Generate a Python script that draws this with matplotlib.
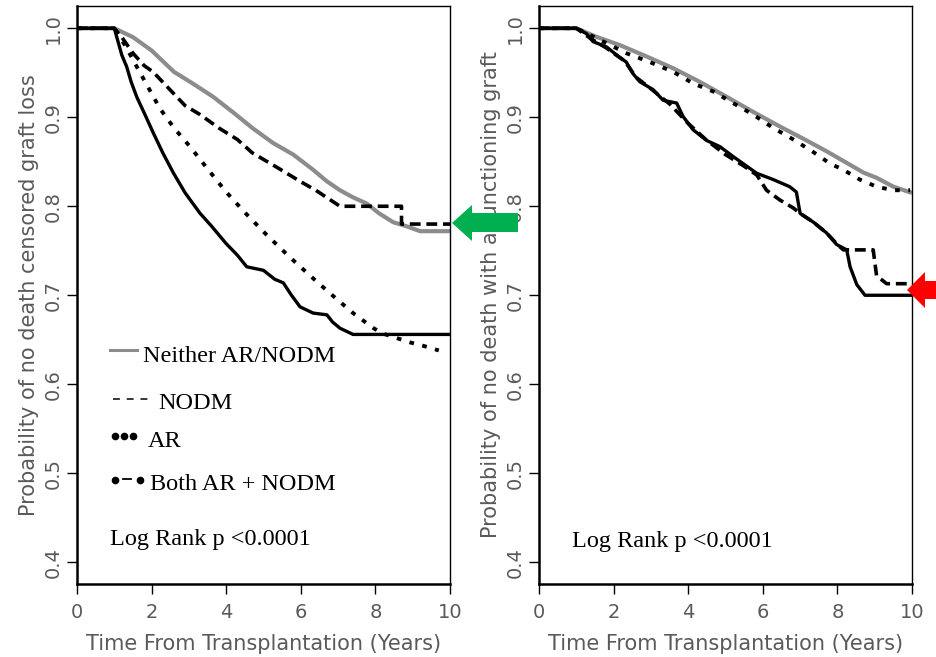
import matplotlib

matplotlib.use("Agg")
import matplotlib.pyplot as plt
from matplotlib.patches import Polygon

# ---- left panel: death censored graft loss ----
L_NEITHER_T = [0, 1.0, 1.5, 2.0, 2.6, 3.1, 3.65, 4.2, 4.7, 5.26, 5.8, 6.33, 6.7, 7.05, 7.4, 7.77, 8.1, 8.48, 8.8, 9.2, 10]
L_NEITHER_S = [1.0, 1.0, 0.990, 0.975, 0.951, 0.938, 0.923, 0.905, 0.888, 0.871, 0.858, 0.841, 0.828, 0.818, 0.810, 0.803, 0.792, 0.782, 0.778, 0.772, 0.772]

L_NODM_T = [0, 1.0, 1.2, 1.5, 1.8, 2.04, 2.4, 2.9, 3.3, 3.8, 4.3, 4.7, 5.35, 5.98, 6.4, 6.87, 7.05, 8.7, 8.7, 10]
L_NODM_S = [1.0, 1.0, 0.990, 0.972, 0.958, 0.951, 0.935, 0.913, 0.903, 0.888, 0.875, 0.860, 0.844, 0.828, 0.818, 0.805, 0.800, 0.800, 0.780, 0.780]

L_AR_T = [0, 1.0, 1.3, 1.6, 2.22, 2.6, 3.03, 3.5, 4.0, 4.5, 5.08, 5.7, 6.33, 6.9, 7.4, 7.95, 8.2, 8.93, 9.3, 9.7]
L_AR_S = [1.0, 1.0, 0.980, 0.957, 0.910, 0.888, 0.867, 0.842, 0.816, 0.793, 0.768, 0.743, 0.719, 0.698, 0.680, 0.663, 0.657, 0.647, 0.643, 0.638]

L_BOTH_T = [0, 1.0, 1.1, 1.2, 1.33, 1.45, 1.6, 1.8, 2.05, 2.3, 2.59, 2.9, 3.3, 3.6, 4.0, 4.3, 4.55, 5.0, 5.3, 5.53, 5.75, 5.98, 6.33, 6.7, 6.85, 7.05, 7.4, 10]
L_BOTH_S = [1.0, 1.0, 0.985, 0.970, 0.957, 0.940, 0.923, 0.905, 0.882, 0.860, 0.837, 0.815, 0.792, 0.778, 0.758, 0.745, 0.732, 0.728, 0.718, 0.714, 0.700, 0.687, 0.680, 0.678, 0.670, 0.663, 0.656, 0.656]

# ---- right panel: death with a functioning graft ----
R_NEITHER_T = [0, 1.0, 1.5, 2.17, 2.9, 3.6, 4.3, 5.03, 5.7, 6.44, 7.17, 7.7, 8.24, 8.69, 9.05, 9.5, 10]
R_NEITHER_S = [1.0, 1.0, 0.991, 0.981, 0.968, 0.955, 0.940, 0.923, 0.907, 0.890, 0.874, 0.862, 0.849, 0.838, 0.832, 0.822, 0.815]

R_NODM_T = [0, 1.0, 1.4, 1.8, 2.3, 2.6, 3.0, 3.5, 4.0, 4.5, 5.0, 5.5, 5.84, 6.1, 6.46, 6.82, 7.0, 7.36, 7.71, 8.0, 8.16, 8.96, 9.05, 9.32, 10]
R_NODM_S = [1.0, 1.0, 0.988, 0.978, 0.963, 0.945, 0.932, 0.915, 0.893, 0.874, 0.858, 0.845, 0.835, 0.818, 0.807, 0.798, 0.792, 0.782, 0.770, 0.757, 0.751, 0.751, 0.722, 0.713, 0.713]

R_AR_T = [0, 1.0, 1.63, 2.34, 2.97, 3.6, 4.13, 4.67, 5.2, 5.74, 6.28, 6.82, 7.35, 7.8, 8.16, 8.6, 9.05, 9.5, 9.95]
R_AR_S = [1.0, 1.0, 0.987, 0.972, 0.962, 0.951, 0.938, 0.929, 0.916, 0.903, 0.888, 0.875, 0.861, 0.848, 0.841, 0.830, 0.822, 0.818, 0.818]

R_BOTH_T = [0, 1.0, 1.27, 1.45, 1.81, 2.08, 2.34, 2.52, 2.7, 3.06, 3.33, 3.69, 3.86, 4.13, 4.49, 4.85, 5.2, 5.57, 5.84, 6.28, 6.72, 6.9, 7.0, 7.36, 7.71, 7.98, 8.25, 8.34, 8.52, 8.74, 10]
R_BOTH_S = [1.0, 1.0, 0.994, 0.985, 0.979, 0.970, 0.962, 0.949, 0.940, 0.931, 0.919, 0.916, 0.901, 0.886, 0.874, 0.867, 0.856, 0.845, 0.837, 0.830, 0.822, 0.816, 0.792, 0.782, 0.770, 0.757, 0.751, 0.732, 0.712, 0.700, 0.700]

X_TICKS = [0, 2, 4, 6, 8, 10]
Y_TICKS = [0.4, 0.5, 0.6, 0.7, 0.8, 0.9, 1.0]
X_LABEL = "Time From Transplantation (Years)"
Y_LABELS = ["Probability of no death censored graft loss",
            "Probability of no death with a functioning graft"]
LEGEND_TEXT = ["Neither AR/NODM", "NODM", "AR", "Both AR + NODM"]
P_TEXT = "Log Rank p <0.0001"

W, H = 936, 657
SANS = ["DejaVu Sans"]
SERIF = ["Liberation Serif", "DejaVu Serif"]
TXT = "#5a5a5a"
GRAY = "#8c8c8c"

fig = plt.figure(figsize=(W / 100, H / 100), dpi=100)
ax_l = fig.add_axes([77 / W, 1 - 584 / H, 373 / W, 578 / H])
ax_r = fig.add_axes([539 / W, 1 - 584 / H, 373 / W, 578 / H])


def style_axes(ax, ylabel):
    ax.set_xlim(0, 10)
    ax.set_ylim(0.3756, 1.025)
    ax.set_xticks(X_TICKS)
    ax.set_yticks(Y_TICKS)
    ax.set_xticklabels([str(t) for t in X_TICKS], family=SANS, color=TXT, fontsize=14)
    ax.set_yticklabels([f"{t:.1f}" for t in Y_TICKS], family=SANS, color=TXT,
                       fontsize=14, rotation=90, va="center")
    ax.tick_params(axis="both", direction="out", length=7, width=1.0, color="black")
    ax.tick_params(axis="x", pad=7)
    ax.tick_params(axis="y", pad=3)
    for side in ("top", "right"):
        ax.spines[side].set_linewidth(1.0)
    for side in ("left", "bottom"):
        ax.spines[side].set_linewidth(1.8)
    ax.set_xlabel(X_LABEL, family=SANS, color=TXT, fontsize=15, labelpad=8)
    ax.set_ylabel(ylabel, family=SANS, color=TXT, fontsize=15, labelpad=4)


def draw_curves(ax, neither, nodm, ar, both):
    ax.plot(*neither, color=GRAY, lw=3.0, solid_capstyle="butt", zorder=2)
    ax.plot(*nodm, color="black", lw=2.6, dashes=(3, 1.6), zorder=3)
    ax.plot(*ar, color="black", lw=2.8, dashes=(1.2, 2.2), zorder=3)
    ax.plot(*both, color="black", lw=2.4, zorder=4)


draw_curves(ax_l, (L_NEITHER_T, L_NEITHER_S), (L_NODM_T, L_NODM_S), (L_AR_T, L_AR_S), (L_BOTH_T, L_BOTH_S))
draw_curves(ax_r, (R_NEITHER_T, R_NEITHER_S), (R_NODM_T, R_NODM_S), (R_AR_T, R_AR_S), (R_BOTH_T, R_BOTH_S))
style_axes(ax_l, Y_LABELS[0])
style_axes(ax_r, Y_LABELS[1])

# hand-made legend as in the original figure
tr = ax_l.transAxes
ax_l.plot([0.0885, 0.160], [0.405, 0.405], transform=tr, color=GRAY, lw=2.2)
ax_l.plot([0.0965, 0.190], [0.320, 0.320], transform=tr, color="black", lw=1.1, dashes=(4.5, 4.5))
ax_l.plot([0.102, 0.126, 0.150], [0.256, 0.256, 0.256], transform=tr, ls="none",
          marker="o", ms=4.5, color="black")
ax_l.plot([0.102, 0.169], [0.180, 0.180], transform=tr, ls="none", marker="o", ms=4.5, color="black")
ax_l.plot([0.124, 0.146], [0.182, 0.182], transform=tr, color="black", lw=1.3)
for txt, x, y in zip(LEGEND_TEXT, [0.177, 0.217, 0.190, 0.196], [0.3846, 0.3022, 0.2370, 0.1626]):
    ax_l.text(x, y, txt, transform=tr, family=SERIF, fontsize=17.5, va="baseline")
ax_l.text(0.088, 0.0675, P_TEXT, transform=tr, family=SERIF, fontsize=17.5, va="baseline")
ax_r.text(0.088, 0.0635, P_TEXT, transform=ax_r.transAxes, family=SERIF, fontsize=17.5, va="baseline")

# highlight arrows (pixel outlines, y measured from the top)
green = [(452, 223), (472, 205), (472, 213), (518, 213), (518, 232), (472, 232), (472, 241)]
red = [(907, 290), (925, 272), (925, 281), (936, 281), (936, 299), (925, 299), (925, 308)]
for pts, col in ((green, "#00b050"), (red, "#ff0000")):
    fig.add_artist(Polygon([(x / W, 1 - y / H) for x, y in pts], closed=True,
                           transform=fig.transFigure, facecolor=col, edgecolor="none", zorder=10))

fig.savefig("out.png", dpi=100)
